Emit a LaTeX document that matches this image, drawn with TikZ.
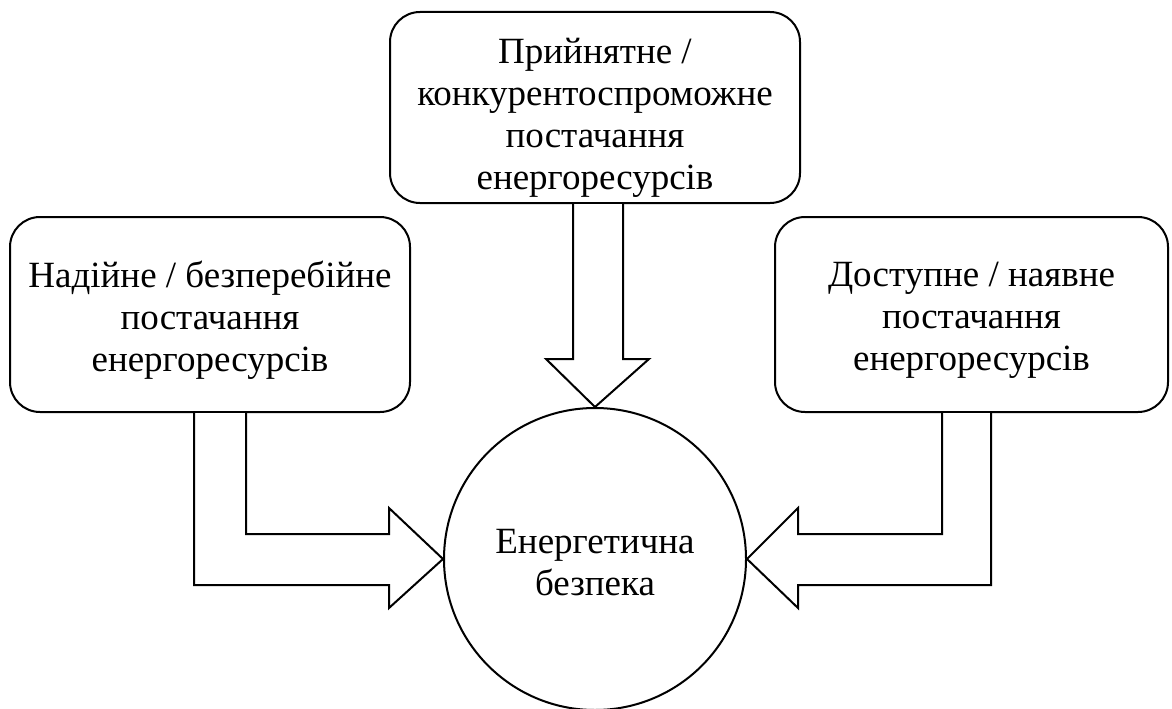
\documentclass[tikz,border=0pt]{standalone}
\usepackage{fontspec}
\setmainfont{Liberation Serif}
\begin{document}
\begin{tikzpicture}[x=1pt,y=-1pt,
  lw/.style={line width=2pt},
  box/.style={lw, draw, rounded corners=30pt, inner sep=0pt},
  goal/.style={lw, draw, circle, inner sep=0pt},
  txt/.style={align=center, inner sep=0pt, font=\fontsize{37}{42}\selectfont},
  blockarrow/.style={lw, draw, fill=white, line join=miter}]
\useasboundingbox (0,0) rectangle (1172,709);
\node[box, minimum width=410pt, minimum height=191pt] (top) at (595,107.5) {};
\node[txt] (topt) at (595,117.5)
  {Прийнятне /\\конкурентоспроможне\\постачання\\енергоресурсів};
\node[box, minimum width=400pt, minimum height=195pt] (lb) at (210,314.5) {};
\node[txt] (lbt) at (210,320.5)
  {Надійне / безперебійне\\постачання\\енергоресурсів};
\node[box, minimum width=393pt, minimum height=195pt] (rb) at (971.5,314.5) {};
\node[txt] (rbt) at (971.5,320.5)
  {Доступне / наявне\\постачання\\енергоресурсів};
\node[goal, minimum size=302pt] (circ) at (595,559) {};
\node[txt] (circt) at (595,563) {Енергетична\\безпека};
\draw[blockarrow] (573,0 |- top.south) -- (573,359) -- (546,359) -- (circ.north)
  -- (649,359) -- (623,359) -- (623,0 |- top.south);
\draw[blockarrow] (194,0 |- lb.south) -- (194,585) -- (389,585) -- (389,608)
  -- (circ.west) -- (389,508) -- (389,534) -- (246,534) -- (246,0 |- lb.south);
\draw[blockarrow] (991,0 |- rb.south) -- (991,585) -- (798,585) -- (798,608)
  -- (circ.east) -- (798,508) -- (798,534) -- (942,534) -- (942,0 |- rb.south);
\end{tikzpicture}
\end{document}
